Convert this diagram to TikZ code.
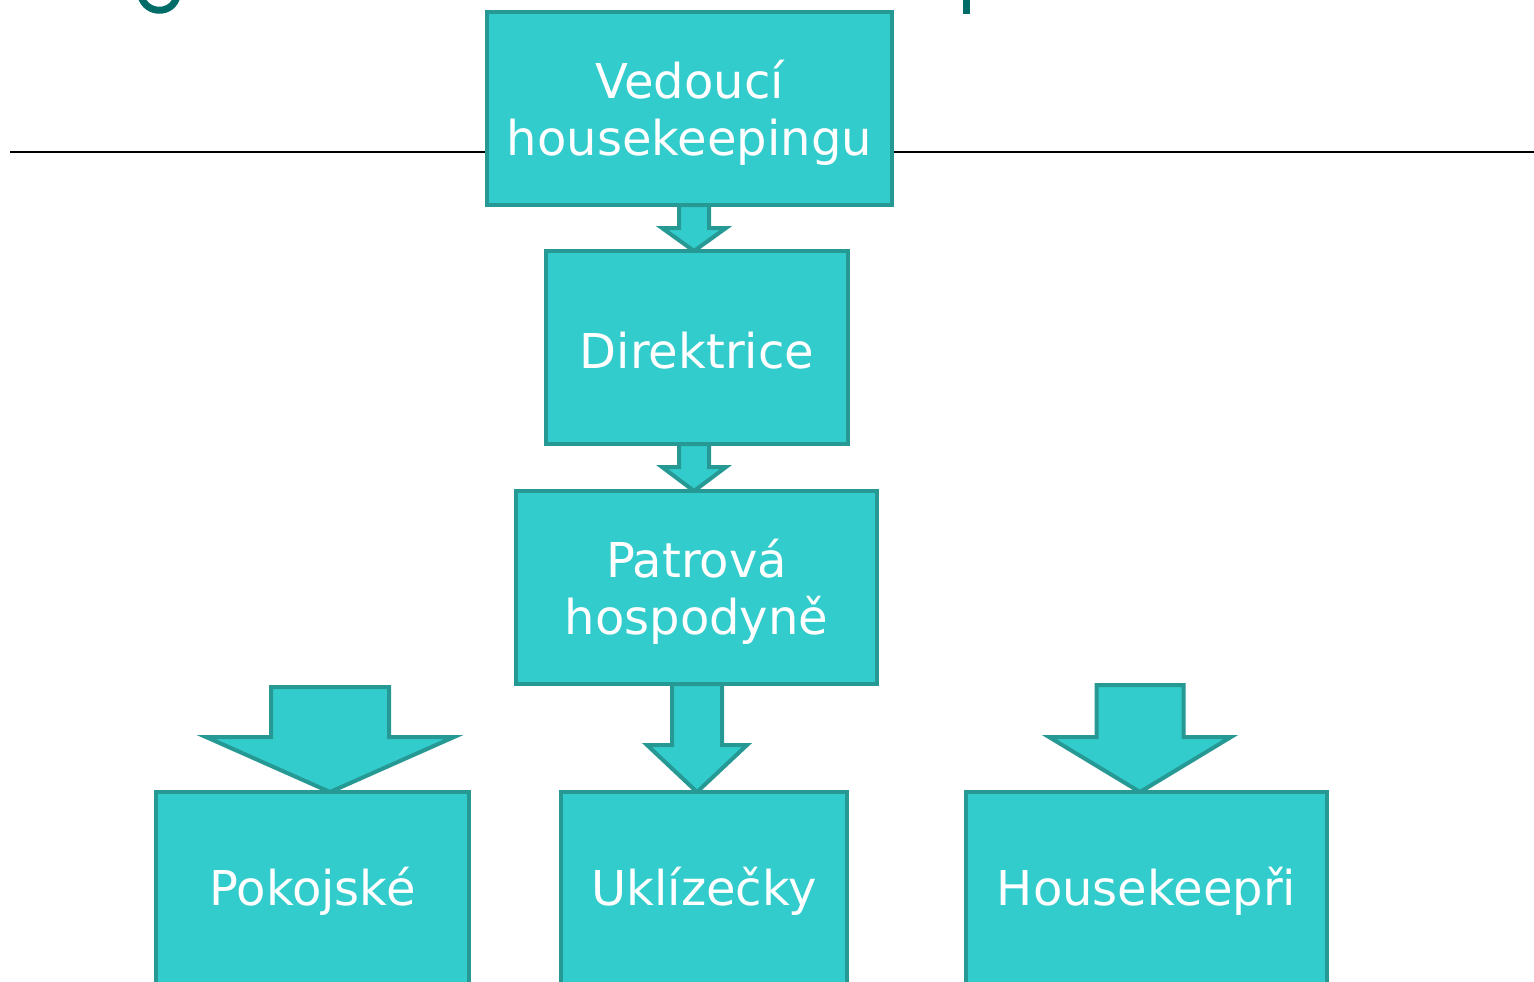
\documentclass[tikz,border=0pt]{standalone}
\usepackage{fontspec}
\setmainfont{DejaVu Sans}
\usetikzlibrary{calc}
\definecolor{boxfill}{RGB}{51,204,204}
\definecolor{boxline}{RGB}{38,153,148}
\definecolor{titlecol}{RGB}{0,108,104}
\tikzset{
  box/.style={draw=boxline, fill=boxfill, line width=4pt, inner sep=0pt},
  boxtext/.style={inner sep=0pt, text=white, font=\fontsize{48}{57}\selectfont, align=center},
  blockarrow/.style={draw=boxline, fill=boxfill, line width=4pt, line join=miter}
}
\newcommand{\barrow}[5]{%
  \draw[blockarrow] ($(#1)+(-#2,-#5)$) -- ($(#1)+(#2,-#5)$) -- ($(#1)+(#2,-#4)$) -- ($(#1)+(#3,-#4)$) -- (#1) -- ($(#1)+(-#3,-#4)$) -- ($(#1)+(-#2,-#4)$) -- cycle;}
\begin{document}
\begin{tikzpicture}[x=1pt,y=-1pt]
\useasboundingbox (0,0) rectangle (1534,982);
\begin{scope}
\clip (0,0) rectangle (1534,982);
% title fragments
\draw[titlecol, line width=7pt] (141,-4) .. controls (146,15) and (173,15) .. (177,-4);
\fill[titlecol] (963,-2) rectangle (970,14);
% rule
\draw[black, line width=2pt] (10,152) -- (1534,152);
% arrow tips
\coordinate (t1) at (694,251);
\coordinate (t2) at (694,491);
\coordinate (t3) at (330,792);
\coordinate (t4) at (697,792);
\coordinate (t5) at (1140,792);
\barrow{t1}{15}{32}{23}{46}
\barrow{t2}{15}{32}{24}{47}
\barrow{t3}{59}{124}{55}{105}
\barrow{t4}{25}{50}{47}{108}
\barrow{t5}{43.5}{91}{55}{107}
% boxes
\node[box, minimum width=405pt, minimum height=193pt] (b1) at (689.5,108.5) {};
\node[box, minimum width=302pt, minimum height=193pt] (b2) at (697,347.5) {};
\node[box, minimum width=361pt, minimum height=193pt] (b3) at (696.5,587.5) {};
\node[box, minimum width=313pt, minimum height=193pt] (b4) at (312.5,888.5) {};
\node[box, minimum width=286pt, minimum height=193pt] (b5) at (704,888.5) {};
\node[box, minimum width=361pt, minimum height=193pt] (b6) at (1146.5,888.5) {};
% texts
\node[boxtext] (l1) at ($(b1.center)+(0,4)$) {Vedoucí\\housekeepingu};
\node[boxtext] (l2) at ($(b2.center)+(0,3)$) {Direktrice};
\node[boxtext] (l3) at ($(b3.center)+(0,4)$) {Patrová\\hospodyně};
\node[boxtext] (l4) at ($(b4.center)+(0,3)$) {Pokojské};
\node[boxtext] (l5) at ($(b5.center)+(0,3)$) {Uklízečky};
\node[boxtext] (l6) at ($(b6.center)+(0,3)$) {Housekeepři};
\end{scope}
\end{tikzpicture}
\end{document}
